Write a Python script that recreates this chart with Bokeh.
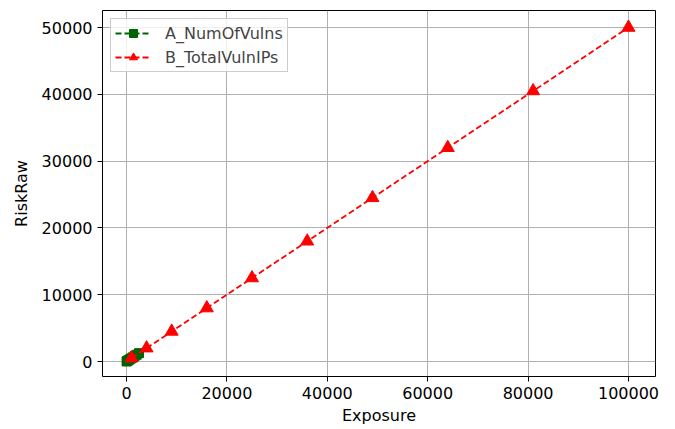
from bokeh.plotting import figure
from bokeh.embed import file_html
from bokeh.resources import INLINE
from bokeh.models import Range1d, SingleIntervalTicker, BasicTickFormatter

# Data
a_exposure = [25, 100, 225, 400, 625, 900, 1225, 1600, 2025, 2500]
a_risk = [12, 50, 112, 200, 312, 450, 612, 800, 1012, 1250]
b_exposure = [1000, 4000, 9000, 16000, 25000, 36000, 49000, 64000, 81000, 100000]
b_risk = [500, 2000, 4500, 8000, 12500, 18000, 24500, 32000, 40500, 50000]

FONT = "DejaVu Sans"
FS = "16px"

p = figure(width=675, height=429, output_backend="svg", toolbar_location=None,
           x_range=Range1d(-4780, 105380), y_range=Range1d(-2245, 52545),
           min_border_left=102, min_border_right=20, min_border_top=10, min_border_bottom=53)

p.line(a_exposure, a_risk, color="#006400", line_width=1.8, line_dash="6 3", legend_label="A_NumOfVulns")
p.scatter(a_exposure, a_risk, marker="square", size=9, color="#006400", legend_label="A_NumOfVulns")
p.line(b_exposure, b_risk, color="#ff0000", line_width=1.8, line_dash="6 3", legend_label="B_TotalVulnIPs")
p.scatter(b_exposure, b_risk, marker="triangle", size=13, color="#ff0000", legend_label="B_TotalVulnIPs")

p.xaxis.ticker = SingleIntervalTicker(interval=20000)
p.yaxis.ticker = SingleIntervalTicker(interval=10000)
p.xaxis.formatter = BasicTickFormatter(use_scientific=False)
p.yaxis.formatter = BasicTickFormatter(use_scientific=False)
p.xaxis.axis_label = "Exposure"
p.yaxis.axis_label = "RiskRaw"
for ax in (p.xaxis, p.yaxis):
    ax.axis_label_text_font = FONT
    ax.axis_label_text_font_size = FS
    ax.axis_label_text_font_style = "normal"
    ax.axis_label_text_color = "black"
    ax.major_label_text_font = FONT
    ax.major_label_text_font_size = FS
    ax.major_label_text_color = "black"
    ax.minor_tick_line_color = None
    ax.major_tick_out = 5
    ax.major_tick_in = 0
    ax.axis_line_color = None
    ax.major_tick_line_color = "black"
    ax.major_label_standoff = 5
p.xaxis.axis_label_standoff = 4
p.yaxis.axis_label_standoff = 8

p.xgrid.grid_line_color = "#b0b0b0"
p.ygrid.grid_line_color = "#b0b0b0"
p.xgrid.grid_line_width = 1
p.ygrid.grid_line_width = 1

p.outline_line_color = "black"
p.outline_line_width = 1
p.outline_line_alpha = 1

p.legend.location = "top_left"
p.legend.label_text_font = FONT
p.legend.label_text_font_size = FS
p.legend.border_line_color = "#cccccc"
p.legend.border_line_alpha = 1
p.legend.background_fill_alpha = 0.8
p.legend.margin = 8
p.legend.padding = 4
p.legend.spacing = 4
p.legend.glyph_width = 36
p.legend.glyph_height = 20
p.legend.label_standoff = 14

open("out.html", "w").write(file_html(p, INLINE))
